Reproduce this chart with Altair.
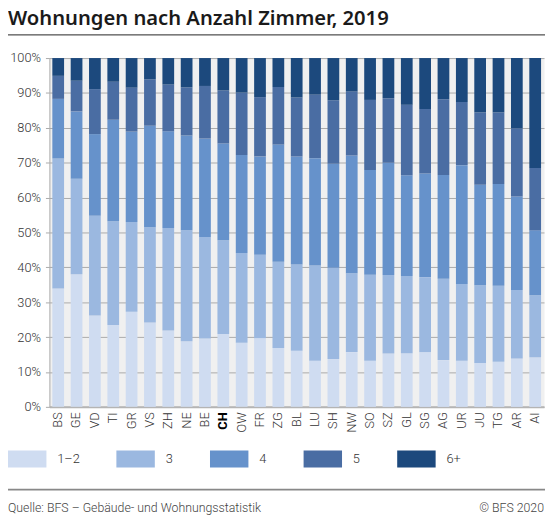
import altair as alt
import pandas as pd

title_text = "Wohnungen nach Anzahl Zimmer, 2019"
source_text = "Quelle: BFS – Gebäude- und Wohnungsstatistik"
copyright_text = "© BFS 2020"

cantons = ["BS", "GE", "VD", "TI", "GR", "VS", "ZH", "NE", "BE", "CH", "OW", "FR", "ZG", "BL",
           "LU", "SH", "NW", "SO", "SZ", "GL", "SG", "AG", "UR", "JU", "TG", "AR", "AI"]
categories = ["1–2", "3", "4", "5", "6+"]

rooms_1_2 = [33.9, 38.0, 26.2, 23.5, 27.3, 24.2, 21.9, 18.8, 19.6, 20.9, 18.4, 19.7, 16.9, 16.1,
             13.2, 13.7, 15.7, 13.2, 15.3, 15.4, 15.7, 13.4, 13.2, 12.6, 12.9, 13.9, 14.2]
rooms_3 = [37.3, 27.4, 28.6, 29.7, 25.7, 27.3, 29.4, 31.8, 29.1, 26.9, 25.7, 23.9, 24.7, 24.7,
           27.3, 26.2, 22.6, 24.7, 22.5, 22.1, 21.5, 23.3, 22.0, 22.3, 21.8, 19.6, 17.8]
rooms_4 = [17.1, 19.3, 23.4, 29.1, 25.9, 29.1, 27.7, 27.2, 28.2, 27.7, 28.1, 28.2, 33.6, 31.0,
           30.8, 29.8, 33.8, 30.0, 32.2, 28.9, 29.7, 29.8, 34.1, 28.8, 29.2, 26.8, 18.6]
rooms_5 = [6.6, 8.8, 12.9, 10.9, 12.6, 13.3, 13.4, 13.8, 15.1, 15.2, 17.9, 17.0, 16.5, 16.9,
           18.2, 18.2, 18.3, 20.1, 18.5, 20.2, 18.5, 21.7, 18.1, 20.7, 20.5, 19.6, 17.9]
rooms_6p = [5.1, 6.5, 8.9, 6.8, 8.5, 6.1, 7.6, 8.4, 8.0, 9.3, 9.9, 11.2, 8.3, 11.3,
            10.5, 12.1, 9.6, 12.0, 11.5, 13.4, 14.6, 11.8, 12.6, 15.6, 15.6, 20.1, 31.5]

colors = ["#cfdcf1", "#9bb8e0", "#6692cb", "#4a6da3", "#1c497d"]

series = [rooms_1_2, rooms_3, rooms_4, rooms_5, rooms_6p]
rows = []
for ci, (cat, vals) in enumerate(zip(categories, series)):
    for k, v in zip(cantons, vals):
        rows.append({"Kanton": k, "Zimmer": cat, "idx": ci, "Anteil": v})
df = pd.DataFrame(rows)

W, H = 502, 354
FONT = "Roboto"

bars = alt.Chart(df).mark_bar().encode(
    x=alt.X(
        "Kanton:N", sort=cantons,
        scale=alt.Scale(paddingInner=0.36, paddingOuter=0.161),
        axis=alt.Axis(
            title=None, labelAngle=270, labelFont=FONT, labelFontSize=13,
            labelColor={"expr": "datum.value == 'CH' ? '#000' : '#333'"},
            labelFontWeight={"expr": "datum.value == 'CH' ? 'bold' : 300"},
            ticks=False, domainColor="#b4b4b4", domainWidth=2, labelPadding=5,
        ),
    ),
    y=alt.Y(
        "Anteil:Q", stack="normalize",
        scale=alt.Scale(domain=[0, 1], nice=False),
        axis=alt.Axis(
            title=None, format=".0%", values=[i / 10 for i in range(11)],
            labelFont=FONT, labelFontSize=13, labelFontWeight=300, labelColor="#333",
            labelPadding=5, tickSize=4, tickColor="#aaaaaa", domainColor="#aaaaaa",
            gridColor="#aaaaaa", gridWidth=1, grid=True,
        ),
    ),
    color=alt.Color(
        "Zimmer:N", sort=categories,
        scale=alt.Scale(domain=categories, range=colors),
        legend=alt.Legend(
            title=None, orient="none", direction="horizontal", legendX=-42, legendY=387,
            symbolType="M-1,-0.44L1,-0.44L1,0.44L-1,0.44Z", symbolSize=1521,
            symbolStrokeWidth=0, symbolOpacity=1, labelOffset=11, columnPadding=37,
            labelFont=FONT, labelFontSize=13, labelFontWeight=300, labelColor="#333",
            padding=0,
        ),
    ),
    order=alt.Order("idx:Q", sort="ascending"),
)

title = alt.Chart(pd.DataFrame({"t": [title_text]})).mark_text(
    align="left", baseline="alphabetic", font="Noto Sans", fontSize=20.5, fontWeight=600,
    color="#1a1a1a"
).encode(x=alt.value(-42), y=alt.value(-33.5), text="t:N")

title_rule = alt.Chart(pd.DataFrame({"t": [0]})).mark_rule(color="#222", strokeWidth=1).encode(
    x=alt.value(-42), x2=alt.value(503), y=alt.value(-23.5)
)

footer_rule = alt.Chart(pd.DataFrame({"t": [0]})).mark_rule(color="#888888", strokeWidth=2).encode(
    x=alt.value(-42), x2=alt.value(503), y=alt.value(438)
)

source = alt.Chart(pd.DataFrame({"t": [source_text]})).mark_text(
    align="left", baseline="alphabetic", font=FONT, fontSize=12.5, fontWeight=300, color="#444"
).encode(x=alt.value(-42), y=alt.value(460.5), text="t:N")

copyright_ = alt.Chart(pd.DataFrame({"t": [copyright_text]})).mark_text(
    align="right", baseline="alphabetic", font=FONT, fontSize=12.5, fontWeight=300, color="#444"
).encode(x=alt.value(502), y=alt.value(460.5), text="t:N")

chart = alt.layer(bars, title, title_rule, footer_rule, source, copyright_).properties(
    width=W, height=H,
    padding={"left": 42, "top": 47, "right": 1, "bottom": 110},
    autosize=alt.AutoSizeParams(type="none"),
).configure_view(fill="#f0f0f0", stroke="transparent").configure_axis(
    domainCap="butt"
)

chart.save("out.html", embed_options={"renderer": "svg", "actions": False})
